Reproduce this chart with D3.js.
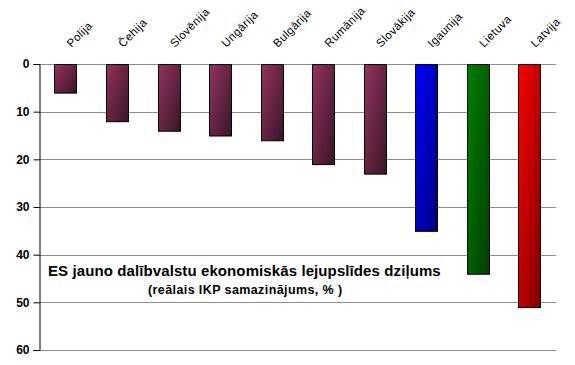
<!DOCTYPE html>
<html>
<head>
<meta charset="utf-8">
<script src="https://cdn.jsdelivr.net/npm/d3@7"></script>
<style>
  body { margin: 0; background: #fff; }
  text { font-family: Arial, "Liberation Sans", sans-serif; }
</style>
</head>
<body>
<div id="chart"></div>
<script>
const countries = ["Polija", "Čehija", "Slovēnija", "Ungārija", "Bulgārija", "Rumānija", "Slovākija", "Igaunija", "Lietuva", "Latvija"];
const decline = [6, 12, 14, 15, 16, 21, 23, 35, 44, 51];
const yTicks = [0, 10, 20, 30, 40, 50, 60];
// gradient pair per bar: light (top-left) and dark (bottom-right)
const barColors = [
    ["#93335f", "#3a1527"], ["#93335f", "#3a1527"], ["#93335f", "#3a1527"],
    ["#93335f", "#3a1527"], ["#93335f", "#3a1527"], ["#93335f", "#3a1527"],
    ["#93335f", "#3a1527"], ["#0000ff", "#000080"], ["#008000", "#004000"],
    ["#ff0000", "#800000"]
];

const width = 575, height = 365;
const margin = {top: 64, right: 19, bottom: 15, left: 39};

const svg = d3.select("#chart").append("svg")
    .attr("width", width)
    .attr("height", height);

const x = d3.scaleBand()
    .domain(countries)
    .range([margin.left, width - margin.right])
    .paddingInner(0.57)
    .paddingOuter(0.3);

const y = d3.scaleLinear()
    .domain([0, 60])
    .range([margin.top, height - margin.bottom]);

const defs = svg.append("defs");
barColors.forEach((c, i) => {
    const g = defs.append("linearGradient")
        .attr("id", "grad" + i)
        .attr("x1", "0%").attr("y1", "0%")
        .attr("x2", "100%").attr("y2", "100%");
    g.append("stop").attr("offset", "0%").attr("stop-color", c[0]);
    g.append("stop").attr("offset", "100%").attr("stop-color", c[1]);
});

// gridlines
svg.append("g")
    .selectAll("line")
    .data(yTicks)
    .enter().append("line")
    .attr("x1", margin.left)
    .attr("x2", width - margin.right)
    .attr("y1", d => Math.round(y(d)) + 0.5)
    .attr("y2", d => Math.round(y(d)) + 0.5)
    .attr("stroke", "#8c8c8c")
    .attr("stroke-width", 1);

// y axis
const yAxis = svg.append("g")
    .attr("transform", `translate(${margin.left + 0.5},0)`)
    .call(d3.axisLeft(y).tickValues(yTicks).tickSize(6).tickPadding(4));
yAxis.select(".domain").attr("stroke", "#000");
yAxis.selectAll(".tick line").attr("stroke", "#000");
yAxis.selectAll(".tick text")
    .attr("font-size", 12)
    .attr("font-weight", "bold")
    .attr("fill", "#000")
    .attr("font-family", "Arial, 'Liberation Sans', sans-serif");

// bars
svg.append("g")
    .selectAll("rect")
    .data(countries)
    .enter().append("rect")
    .attr("x", d => Math.round(x(d)) + 0.5)
    .attr("y", y(0) + 0.5)
    .attr("width", Math.round(x.bandwidth()))
    .attr("height", (d, i) => y(decline[i]) - y(0))
    .attr("fill", (d, i) => `url(#grad${i})`)
    .attr("stroke", "#000")
    .attr("stroke-width", 1);

// category labels, rotated
svg.append("g")
    .selectAll("text")
    .data(countries)
    .enter().append("text")
    .attr("transform", d => `translate(${x(d) + x.bandwidth() / 2 + 6},${48}) rotate(-45)`)
    .attr("font-size", 11.5)
    .attr("letter-spacing", 0.4)
    .attr("fill", "#000")
    .text(d => d);

// title
svg.append("text")
    .attr("x", 48)
    .attr("y", 276)
    .attr("font-size", 15)
    .attr("font-weight", "bold")
    .attr("letter-spacing", 0.1)
    .text("ES jauno dalībvalstu ekonomiskās lejupslīdes dziļums");

svg.append("text")
    .attr("x", 148)
    .attr("y", 294)
    .attr("font-size", 12.5)
    .attr("font-weight", "bold")
    .attr("letter-spacing", 0.4)
    .text("(reālais IKP samazinājums, % )");
</script>
</body>
</html>
